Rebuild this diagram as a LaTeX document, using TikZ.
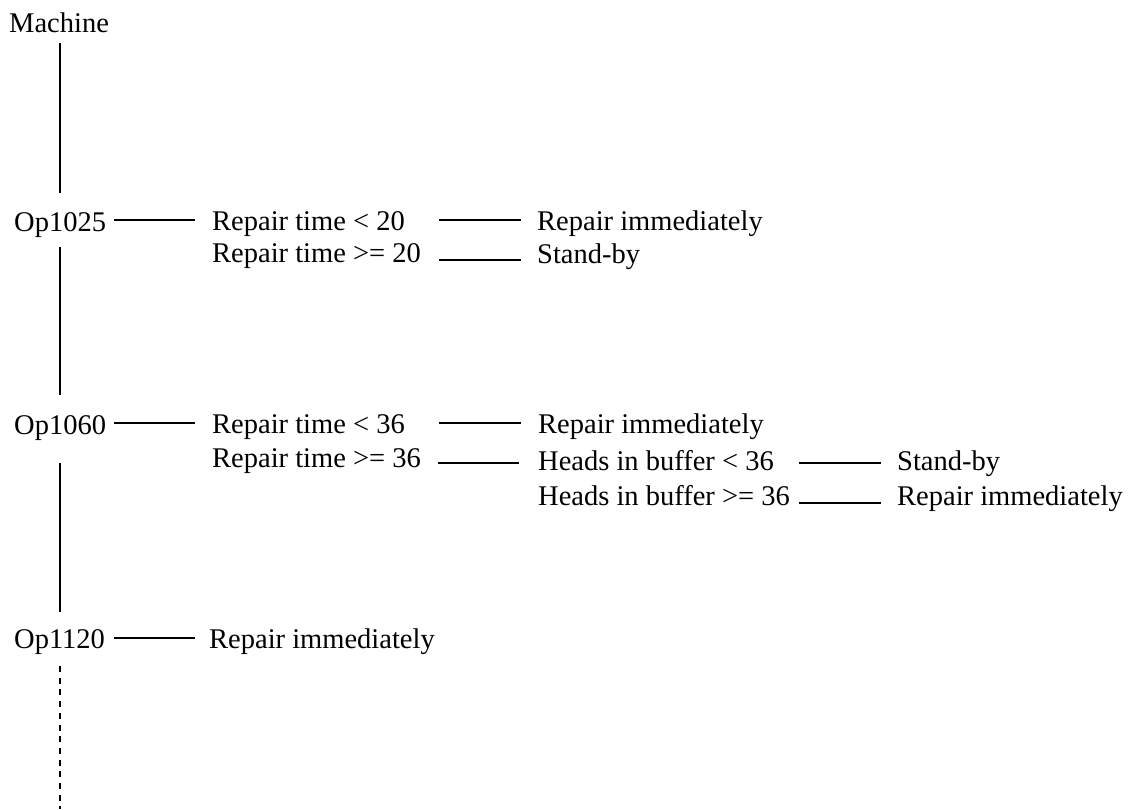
\documentclass[tikz,border=0pt]{standalone}
\usepackage{fontspec}
\setmainfont{Liberation Serif}
\usetikzlibrary{calc}
\tikzset{
  lbl/.style={anchor=base west, inner sep=0pt, font=\fontsize{28.5}{30}\selectfont},
  conn/.style={line width=1.6pt, line cap=butt},
  dconn/.style={line width=1.4pt, dash pattern=on 6pt off 5.7pt}
}
\begin{document}
\begin{tikzpicture}[x=1pt,y=-1pt]
\useasboundingbox (0,0) rectangle (1132,809);
% texts
\node[lbl] (machine) at (9,32) {Machine};
\node[lbl] (op1025) at (14,231) {Op1025};
\node[lbl] (rt20a) at (212,230) {Repair time < 20};
\node[lbl] (rt20b) at (212,262) {Repair time >= 20};
\node[lbl] (ri1) at (537,230) {Repair immediately};
\node[lbl] (sb1) at (537,263) {Stand-by};
\node[lbl] (op1060) at (14,434) {Op1060};
\node[lbl] (rt36a) at (212,433) {Repair time < 36};
\node[lbl] (rt36b) at (212,467) {Repair time >= 36};
\node[lbl] (ri2) at (538,433) {Repair immediately};
\node[lbl] (hb1) at (538,470) {Heads in buffer < 36};
\node[lbl] (hb2) at (538,505) {Heads in buffer >= 36};
\node[lbl] (sb2) at (897,470) {Stand-by};
\node[lbl] (ri3) at (897,505) {Repair immediately};
\node[lbl] (op1120) at (14,648) {Op1120};
\node[lbl] (ri4) at (209,648) {Repair immediately};
\coordinate (bottom) at (60,809);
% vertical spine
\draw[conn] ($(machine.base west)+(51,11)$) -- ($(op1025.base west)+(46,-38)$);
\draw[conn] ($(op1025.base west)+(46,16)$) -- ($(op1060.base west)+(46,-39)$);
\draw[conn] ($(op1060.base west)+(46,29)$) -- ($(op1120.base west)+(46,-36)$);
\draw[dconn] ($(op1120.base west)+(46,18)$) -- (bottom);
% horizontal connectors
\draw[conn] ($(op1025.base west)+(100,-11)$) -- ($(rt20a.base west)+(-17,-10)$);
\draw[conn] ($(rt20a.base west)+(227,-10)$) -- ($(ri1.base west)+(-16,-10)$);
\draw[conn] ($(rt20b.base west)+(227,-2)$) -- ($(sb1.base west)+(-16,-3)$);
\draw[conn] ($(op1060.base west)+(100,-11)$) -- ($(rt36a.base west)+(-17,-10)$);
\draw[conn] ($(rt36a.base west)+(227,-10)$) -- ($(ri2.base west)+(-17,-10)$);
\draw[conn] ($(rt36b.base west)+(226,-4)$) -- ($(hb1.base west)+(-19,-7)$);
\draw[conn] ($(hb1.base west)+(261,-7)$) -- ($(sb2.base west)+(-16,-7)$);
\draw[conn] ($(hb2.base west)+(261,-2)$) -- ($(ri3.base west)+(-16,-2)$);
\draw[conn] ($(op1120.base west)+(100,-10)$) -- ($(ri4.base west)+(-14,-10)$);
\end{tikzpicture}
\end{document}
